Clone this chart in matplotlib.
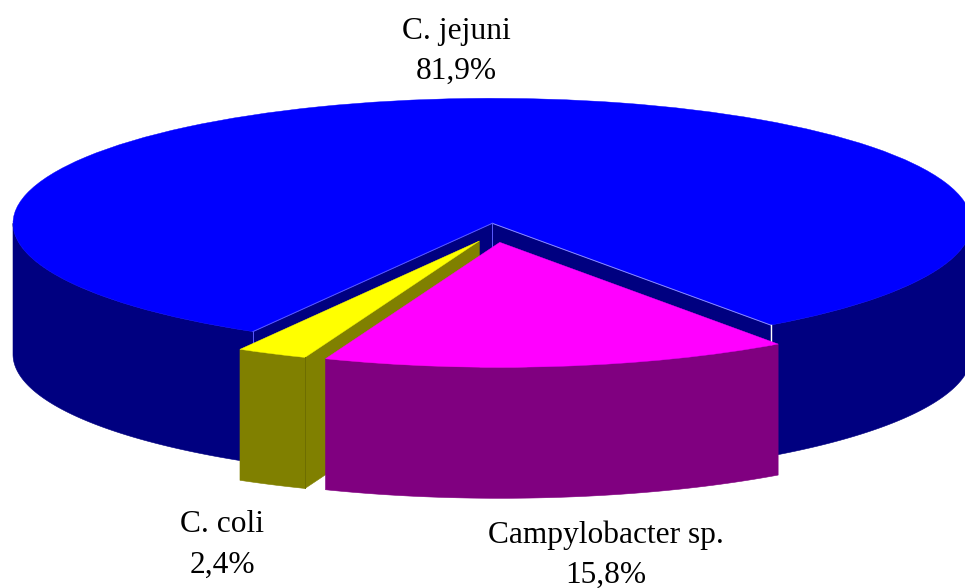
import numpy as np
import matplotlib
matplotlib.use('Agg')
import matplotlib.pyplot as plt
from matplotlib.patches import Wedge, Polygon

# Data, clockwise from the right edge of the Campylobacter sp. slice
names = ['Campylobacter sp.', 'C. coli', 'C. jejuni']
values = [15.8, 2.4, 81.9]
top_colors = ['#ff00ff', '#ffff00', '#0000ff']
side_colors = ['#800080', '#808000', '#000080']

# Pie geometry: one data unit is the radius of the top ellipse on each axis
W, H = 965, 588
cx, cy = 492.3, 223.3     # pixel position of the pie centre
rx, ry = 479.3, 125.0     # pixel radii of the ellipse
start_angle = -54.5
depth = 131 / ry
explode = [(7.5 / rx, -19 / ry), (-13 / rx, -17.7 / ry), (0, 0)]

# Label centres in data units
label_pos = [((606 - cx) / rx, (cy - 555) / ry),
             ((222 - cx) / rx, (cy - 545) / ry),
             ((456 - cx) / rx, (cy - 51) / ry)]

plt.rcParams['font.family'] = ['Liberation Serif', 'DejaVu Serif']

fig = plt.figure(figsize=(W / 100, H / 100), dpi=100)
ax = fig.add_axes([0, 0, 1, 1])
ax.set_xlim(-cx / rx, (W - cx) / rx)
ax.set_ylim((cy - H) / ry, cy / ry)
ax.axis('off')


def rim(t, off):
    return off[0] + np.cos(np.radians(t)), off[1] + np.sin(np.radians(t))


def add_wall(pts, color, z):
    # extrude a line of top points down by the pie depth
    pts = np.array(pts)
    low = pts[::-1] - [0, depth]
    ax.add_patch(Polygon(np.vstack([pts, low]), closed=True, fc=color, ec=color, lw=0.4, zorder=z))


def add_outer(t1, t2, off, color, z):
    # only the front half of the rim can be seen
    a, b = max(t1, -180), min(t2, 0)
    if a < b:
        t = np.linspace(a, b, 120)
        x, y = rim(t, off)
        add_wall(np.column_stack([x, y]), color, z)


# slice angles, walking clockwise
total = sum(values)
sweeps = [v / total * 360 for v in values]
ends = start_angle - np.cumsum([0] + sweeps)

for i in [2, 1, 0]:  # back slice first
    hi, lo = ends[i], ends[i + 1]
    off = explode[i]
    z = 3 - i
    apex = off
    if i == 2:
        # the big slice wraps around: walls of the notch, then both sides of the rim
        left_pt = rim(hi, off)
        right_pt = rim(lo, off)
        add_wall([apex, left_pt], side_colors[i], z)
        add_wall([apex, right_pt], side_colors[i], z)
        add_outer(-180, hi, off, side_colors[i], z)
        add_outer(lo + 360, 0, off, side_colors[i], z)
        ax.add_patch(Wedge(off, 1, lo + 360, hi + 360, fc=top_colors[i], ec=top_colors[i], lw=0.3, zorder=z + 0.1))
        # thin highlights on the notch edges
        for p, c in [(left_pt, '#5a5aff'), (right_pt, '#8c8cff')]:
            ax.plot([apex[0], p[0]], [apex[1], p[1]], color=c, lw=0.7, zorder=z + 0.2)
        ax.plot([left_pt[0]] * 2, [left_pt[1], left_pt[1] - depth], color='#5a5aff', lw=0.7, zorder=z + 0.2)
        ax.plot([right_pt[0]] * 2, [right_pt[1], right_pt[1] - depth], color='white', lw=1.0, zorder=z + 0.2)
        ax.plot([apex[0]] * 2, [apex[1], apex[1] - depth], color='#5a5aff', lw=0.7, zorder=z + 0.2)
    else:
        if i == 1:
            # cut face towards the viewer
            add_wall([apex, rim(hi, off)], side_colors[i], z)
        add_outer(lo, hi, off, side_colors[i], z)
        ax.add_patch(Wedge(off, 1, lo, hi, fc=top_colors[i], ec=top_colors[i], lw=0.3, zorder=z + 0.1))
        if i == 1:
            p = rim(hi, off)
            ax.plot([p[0]] * 2, [p[1], p[1] - depth], color='#6e6e00', lw=0.7, zorder=z + 0.2)

for name, v, (lx, ly) in zip(names, values, label_pos):
    label = name + '\n' + '{:.1f}%'.format(v).replace('.', ',')
    ax.text(lx, ly, label, ha='center', va='center', fontsize=22.6, color='black',
            linespacing=1.5, zorder=10)

fig.savefig('out.png', dpi=100)
